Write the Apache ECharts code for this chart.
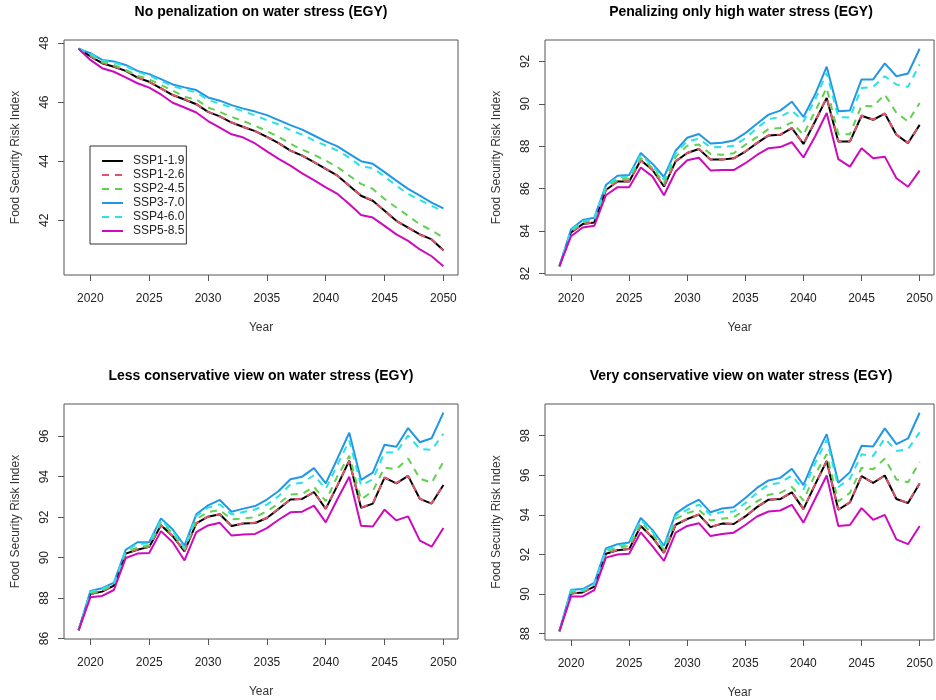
<!DOCTYPE html>
<html>
<head>
<meta charset="utf-8">
<script src="https://cdn.jsdelivr.net/npm/echarts@6/dist/echarts.min.js"></script>
<style>html,body{margin:0;padding:0;background:#fff}#c{width:936px;height:700px}</style>
</head>
<body>
<div id="c"></div>
<script>
const years = [2019,2020,2021,2022,2023,2024,2025,2026,2027,2028,2029,2030,2031,2032,2033,2034,2035,2036,2037,2038,2039,2040,2041,2042,2043,2044,2045,2046,2047,2048,2049,2050];
const seriesNames = ["SSP1-1.9","SSP1-2.6","SSP2-4.5","SSP3-7.0","SSP4-6.0","SSP5-8.5"];
const panelTitles = ["No penalization on water stress (EGY)","Penalizing only high water stress (EGY)","Less conservative view on water stress (EGY)","Very conservative view on water stress (EGY)"];
const xTicks = [2020,2025,2030,2035,2040,2045,2050];
const yTicks1 = [42,44,46,48];
const yTicks2 = [82,84,86,88,90,92];
const yTicks3 = [86,88,90,92,94,96];
const yTicks4 = [88,90,92,94,96,98];

// Panel 1: No penalization
const p1_ssp119 = [47.81,47.55,47.32,47.20,47.06,46.83,46.69,46.47,46.24,46.09,45.93,45.67,45.52,45.31,45.16,45.02,44.82,44.61,44.36,44.19,43.97,43.74,43.51,43.17,42.83,42.66,42.32,41.98,41.75,41.52,41.35,40.98];
const p1_ssp126 = [47.81,47.56,47.33,47.21,47.07,46.84,46.69,46.47,46.24,46.10,45.93,45.67,45.52,45.31,45.16,45.02,44.82,44.61,44.36,44.19,43.97,43.74,43.51,43.18,42.84,42.67,42.32,41.98,41.75,41.51,41.35,40.97];
const p1_ssp245 = [47.81,47.60,47.37,47.26,47.09,46.90,46.77,46.58,46.39,46.18,46.09,45.82,45.67,45.50,45.36,45.20,45.02,44.82,44.59,44.39,44.22,44.02,43.80,43.51,43.23,43.06,42.72,42.43,42.15,41.86,41.66,41.41];
const p1_ssp370 = [47.81,47.66,47.43,47.38,47.26,47.06,46.95,46.78,46.60,46.50,46.41,46.16,46.05,45.90,45.78,45.68,45.56,45.39,45.22,45.07,44.87,44.67,44.50,44.25,44.00,43.91,43.63,43.34,43.06,42.83,42.60,42.40];
const p1_ssp460 = [47.81,47.64,47.41,47.34,47.22,47.02,46.90,46.72,46.54,46.43,46.33,46.07,45.95,45.82,45.69,45.55,45.39,45.24,45.05,44.90,44.70,44.53,44.36,44.12,43.82,43.77,43.48,43.17,42.89,42.68,42.49,42.30];
const p1_ssp585 = [47.81,47.43,47.15,47.03,46.84,46.64,46.49,46.26,45.98,45.82,45.65,45.36,45.14,44.91,44.80,44.60,44.33,44.08,43.85,43.59,43.36,43.11,42.89,42.55,42.18,42.09,41.81,41.52,41.30,41.01,40.78,40.44];

// Panel 2: Penalizing only high water stress
const p2_ssp119 = [82.34,83.94,84.33,84.41,85.94,86.34,86.34,87.34,86.89,86.10,87.29,87.68,87.87,87.37,87.37,87.43,87.75,88.15,88.51,88.54,88.86,88.11,89.17,90.28,88.22,88.22,89.44,89.25,89.54,88.54,88.15,89.01];
const p2_ssp126 = [82.34,83.95,84.34,84.42,85.95,86.35,86.35,87.33,86.90,86.11,87.30,87.69,87.88,87.37,87.38,87.43,87.76,88.16,88.52,88.55,88.87,88.12,89.18,90.29,88.23,88.23,89.45,89.26,89.55,88.55,88.16,89.02];
const p2_ssp245 = [82.34,84.00,84.42,84.52,86.03,86.45,86.47,87.45,86.98,86.27,87.50,88.03,88.08,87.64,87.60,87.67,88.07,88.43,88.81,88.86,89.13,88.54,89.65,90.75,88.57,88.57,89.91,89.88,90.44,89.57,89.17,90.04];
const p2_ssp370 = [82.34,84.09,84.52,84.63,86.17,86.61,86.64,87.68,87.18,86.55,87.79,88.40,88.58,88.13,88.17,88.27,88.62,89.06,89.49,89.68,90.10,89.38,90.44,91.75,89.65,89.69,91.15,91.15,91.91,91.30,91.43,92.60];
const p2_ssp460 = [82.34,84.05,84.47,84.58,86.10,86.54,86.57,87.60,87.10,86.42,87.68,88.24,88.35,87.95,87.97,88.02,88.38,88.86,89.28,89.38,89.69,89.17,90.20,91.46,89.38,89.35,90.75,90.80,91.30,90.91,90.80,91.86];
const p2_ssp585 = [82.34,83.76,84.17,84.25,85.69,86.07,86.07,87.00,86.58,85.69,86.81,87.34,87.46,86.86,86.88,86.88,87.20,87.59,87.91,87.96,88.19,87.47,88.46,89.57,87.39,87.04,87.91,87.43,87.51,86.49,86.09,86.85];

// Panel 3: Less conservative view
const p3_ssp119 = [86.41,88.20,88.32,88.62,90.20,90.39,90.53,91.60,91.06,90.31,91.69,92.02,92.14,91.56,91.69,91.71,91.96,92.41,92.87,92.90,93.24,92.41,93.57,94.79,92.46,92.67,93.95,93.67,94.04,92.90,92.67,93.59];
const p3_ssp126 = [86.41,88.21,88.33,88.63,90.21,90.40,90.54,91.61,91.07,90.32,91.70,92.03,92.15,91.57,91.70,91.72,91.97,92.42,92.88,92.91,93.25,92.42,93.58,94.77,92.47,92.68,93.96,93.68,94.05,92.91,92.68,93.60];
const p3_ssp245 = [86.41,88.26,88.38,88.68,90.27,90.50,90.60,91.75,91.20,90.40,91.90,92.25,92.35,91.89,91.94,92.00,92.29,92.67,93.12,93.15,93.50,92.79,94.04,95.03,92.87,93.29,94.45,94.37,94.90,93.90,93.70,94.74];
const p3_ssp370 = [86.41,88.35,88.49,88.77,90.39,90.76,90.76,91.94,91.39,90.59,92.14,92.58,92.85,92.27,92.42,92.55,92.87,93.29,93.87,94.00,94.42,93.67,94.90,96.17,93.84,94.20,95.58,95.48,96.40,95.70,95.90,97.16];
const p3_ssp460 = [86.41,88.31,88.45,88.73,90.33,90.68,90.70,91.86,91.30,90.48,92.05,92.47,92.63,92.14,92.25,92.38,92.62,93.04,93.62,93.70,94.07,93.40,94.60,95.78,93.57,93.87,95.20,95.20,96.03,95.37,95.32,96.12];
const p3_ssp585 = [86.41,88.04,88.11,88.40,89.98,90.20,90.23,91.31,90.76,89.86,91.26,91.59,91.72,91.09,91.14,91.17,91.46,91.87,92.24,92.27,92.57,91.74,92.90,94.00,91.57,91.54,92.37,91.84,92.04,90.84,90.54,91.46];

// Panel 4: Very conservative view
const p4_ssp119 = [88.12,90.03,90.08,90.37,92.04,92.21,92.27,93.44,92.86,92.08,93.50,93.79,94.01,93.38,93.56,93.54,93.92,94.39,94.77,94.80,95.14,94.29,95.53,96.72,94.26,94.63,95.96,95.62,95.99,94.80,94.60,95.59];
const p4_ssp126 = [88.12,90.04,90.09,90.38,92.05,92.22,92.28,93.45,92.87,92.09,93.51,93.80,94.02,93.39,93.57,93.55,93.93,94.40,94.78,94.81,95.15,94.30,95.54,96.71,94.27,94.64,95.97,95.63,96.00,94.81,94.61,95.60];
const p4_ssp245 = [88.12,90.12,90.15,90.45,92.15,92.35,92.42,93.62,93.05,92.23,93.80,94.09,94.26,93.72,93.81,93.88,94.26,94.68,95.02,95.11,95.41,94.73,96.04,97.06,94.68,95.11,96.38,96.30,96.84,95.79,95.65,96.67];
const p4_ssp370 = [88.12,90.22,90.25,90.56,92.30,92.52,92.61,93.84,93.24,92.44,94.06,94.47,94.77,94.13,94.32,94.39,94.85,95.36,95.74,95.87,96.33,95.50,96.89,98.08,95.62,96.16,97.49,97.46,98.37,97.57,97.86,99.16];
const p4_ssp460 = [88.12,90.18,90.20,90.50,92.22,92.44,92.53,93.75,93.15,92.33,93.95,94.26,94.52,94.00,94.15,94.17,94.60,95.11,95.53,95.62,95.99,95.28,96.60,97.80,95.41,95.82,97.06,96.98,97.86,97.23,97.32,98.17];
const p4_ssp585 = [88.12,89.88,89.88,90.20,91.84,92.00,92.04,93.12,92.42,91.67,93.10,93.44,93.58,92.93,93.03,93.10,93.49,93.92,94.17,94.22,94.51,93.61,94.80,95.99,93.44,93.49,94.34,93.75,94.00,92.76,92.52,93.44];

const panels = [
  {title: panelTitles[0], data: [p1_ssp119,p1_ssp126,p1_ssp245,p1_ssp370,p1_ssp460,p1_ssp585], yTicks: yTicks1},
  {title: panelTitles[1], data: [p2_ssp119,p2_ssp126,p2_ssp245,p2_ssp370,p2_ssp460,p2_ssp585], yTicks: yTicks2},
  {title: panelTitles[2], data: [p3_ssp119,p3_ssp126,p3_ssp245,p3_ssp370,p3_ssp460,p3_ssp585], yTicks: yTicks3},
  {title: panelTitles[3], data: [p4_ssp119,p4_ssp126,p4_ssp245,p4_ssp370,p4_ssp460,p4_ssp585], yTicks: yTicks4}
];

const colors = ["#000000","#DF536B","#61D04F","#2297E6","#28E2E5","#CD0BBC"];
const dashed = [false,true,true,false,true,false];
const dashPattern = [7,6];
const FONT = "Liberation Sans, Arial, sans-serif";
const layout = [
  {left: 64, top: 40, width: 394, height: 235},
  {left: 545, top: 40, width: 394, height: 235},
  {left: 64, top: 404, width: 394, height: 235},
  {left: 545, top: 404, width: 394, height: 236}
];

function rExt(lo, hi) { const d = (hi - lo) * 0.04; return [lo - d, hi + d]; }
const xr = rExt(years[0], years[years.length - 1]);

const grid = [], xAxis = [], yAxis = [], series = [], graphic = [];
panels.forEach((p, i) => {
  const L = layout[i];
  grid.push({left: L.left, top: L.top, width: L.width, height: L.height, show: true,
    borderColor: '#555', borderWidth: 1, backgroundColor: 'transparent', containLabel: false});
  let lo = Infinity, hi = -Infinity;
  p.data.forEach(a => a.forEach(v => { lo = Math.min(lo, v); hi = Math.max(hi, v); }));
  const yr = rExt(lo, hi);
  xAxis.push({type: 'value', gridIndex: i, min: xr[0], max: xr[1],
    splitLine: {show: false}, axisLine: {show: false},
    axisTick: {show: true, inside: false, length: 6, lineStyle: {color: '#555'}, customValues: xTicks},
    axisLabel: {show: true, customValues: xTicks, margin: 18, color: '#222', fontSize: 12, fontFamily: FONT, formatter: v => String(v)},
    name: 'Year', nameLocation: 'middle', nameGap: 47,
    nameTextStyle: {color: '#333', fontSize: 12, fontFamily: FONT}});
  yAxis.push({type: 'value', gridIndex: i, min: yr[0], max: yr[1],
    splitLine: {show: false}, axisLine: {show: false},
    axisTick: {show: true, inside: false, length: 6, lineStyle: {color: '#555'}, customValues: p.yTicks},
    axisLabel: {show: true, customValues: p.yTicks, rotate: 90, margin: 13, color: '#222', fontSize: 12, fontFamily: FONT, formatter: v => String(v)},
    name: 'Food Security Risk Index', nameLocation: 'middle', nameGap: 42, nameRotate: 90,
    nameTextStyle: {color: '#333', fontSize: 12, fontFamily: FONT}});
  p.data.forEach((arr, k) => {
    series.push({type: 'line', name: seriesNames[k], xAxisIndex: i, yAxisIndex: i,
      data: years.map((y, j) => [y, arr[j]]), showSymbol: false, symbol: 'none', silent: true,
      lineStyle: {color: colors[k], width: 2, type: dashed[k] ? dashPattern : 'solid'},
      itemStyle: {color: colors[k]}, z: 2 + k});
  });
  graphic.push({type: 'text', x: L.left + 394 / 2 - (i % 2 === 1 ? 1 : 0), y: L.top - 28,
    style: {text: p.title, fill: '#000', font: 'bold 14px ' + FONT, textAlign: 'center', textVerticalAlign: 'middle'}});
});

const chart = echarts.init(document.getElementById('c'), null, {renderer: 'canvas'});
chart.setOption({
  animation: false,
  backgroundColor: '#fff',
  grid, xAxis, yAxis, series, graphic,
  legend: {show: true, orient: 'vertical', left: 90, top: 146, data: seriesNames,
    itemWidth: 21, itemHeight: 12, itemGap: 2, padding: [9, 2, 7, 11],
    borderColor: '#333', borderWidth: 1, backgroundColor: '#fff',
    itemStyle: {opacity: 0, borderWidth: 0},
    textStyle: {color: '#222', fontSize: 12, fontFamily: FONT, padding: [0, 0, 0, 5]},
    selectedMode: false}
});
</script>
</body>
</html>
